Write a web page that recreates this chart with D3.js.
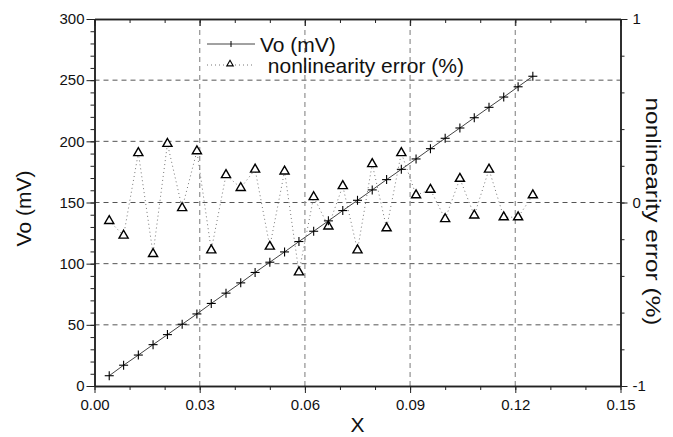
<!DOCTYPE html>
<html>
<head>
<meta charset="utf-8">
<script src="https://cdn.jsdelivr.net/npm/d3@7"></script>
<style>
  body { margin: 0; background: #fff; }
  svg { font-family: "Liberation Sans", Arial, sans-serif; }
</style>
</head>
<body>
<svg id="chart" width="673" height="437"></svg>
<script>
// values
const xValues = [0.0042, 0.0083, 0.0125, 0.0167, 0.0208, 0.025, 0.0292, 0.0333, 0.0375, 0.0417,
  0.0458, 0.05, 0.0542, 0.0583, 0.0625, 0.0667, 0.0708, 0.075, 0.0792, 0.0833,
  0.0875, 0.0917, 0.0958, 0.1, 0.1042, 0.1083, 0.1125, 0.1167, 0.1208, 0.125];
const voValues = [8.4, 17.0, 25.3, 33.8, 42.0, 50.5, 58.9, 67.5, 75.9, 84.3,
  92.8, 101.2, 109.6, 118.1, 126.5, 135.0, 143.4, 151.8, 160.3, 168.7,
  177.1, 185.6, 194.0, 202.5, 210.9, 219.3, 227.8, 236.2, 244.6, 253.2];
const errValues = [-0.10, -0.18, 0.27, -0.28, 0.32, -0.03, 0.28, -0.26, 0.15, 0.08,
  0.18, -0.24, 0.17, -0.38, 0.03, -0.13, 0.09, -0.26, 0.21, -0.14,
  0.27, 0.04, 0.07, -0.09, 0.13, -0.07, 0.18, -0.08, -0.08, 0.04];
const xTicks = [0, 0.03, 0.06, 0.09, 0.12, 0.15];
const leftTicks = [0, 50, 100, 150, 200, 250, 300];
const rightTicks = [-1, 0, 1];
const legendLabels = ["Vo (mV)", " nonlinearity error (%)"];

const data = xValues.map((x, i) => ({ x, vo: voValues[i], err: errValues[i] }));

const margin = { top: 19, right: 52.5, bottom: 51, left: 94.5 };
const width = 673, height = 437;
const svg = d3.select("#chart");

const x = d3.scaleLinear().domain([0, 0.15]).range([margin.left, width - margin.right]);
const y = d3.scaleLinear().domain([0, 300]).range([height - margin.bottom, margin.top]);
const y2 = d3.scaleLinear().domain([-1, 1]).range([height - margin.bottom, margin.top]);

// grid
const grid = svg.append("g").attr("stroke", "#555").attr("stroke-width", 1).attr("stroke-dasharray", "5,4");
grid.selectAll("line.h")
  .data(leftTicks.slice(1, -1))
  .join("line")
  .attr("x1", x(0)).attr("x2", x(0.15))
  .attr("y1", d => y(d)).attr("y2", d => y(d));
grid.selectAll("line.v")
  .data(xTicks.slice(1, -1))
  .join("line")
  .attr("stroke", "#999").attr("stroke-width", 1.3)
  .attr("x1", d => x(d)).attr("x2", d => x(d))
  .attr("y1", y(0)).attr("y2", y(300));

// axes
function styleAxis(g) {
  g.selectAll("path.domain").attr("stroke", "#222").attr("stroke-width", 1.5);
  g.selectAll(".tick line").attr("stroke", "#222").attr("stroke-width", 1);
  g.selectAll(".tick text").attr("fill", "#111").style("font-size", "15px");
}

const bottomMinor = d3.range(0, 0.1501, 0.01);
svg.append("g")
  .attr("transform", `translate(0,${y(0)})`)
  .call(d3.axisBottom(x).tickValues(bottomMinor).tickSize(4).tickSizeOuter(0).tickFormat(""))
  .call(styleAxis);
svg.append("g")
  .attr("transform", `translate(0,${y(0)})`)
  .call(d3.axisBottom(x).tickValues(xTicks).tickSize(7).tickSizeOuter(0).tickPadding(6).tickFormat(d3.format(".2f")))
  .call(styleAxis);

svg.append("g")
  .attr("transform", `translate(0,${y(300)})`)
  .call(d3.axisBottom(x).tickValues(bottomMinor).tickSize(4).tickSizeOuter(0).tickFormat(""))
  .call(styleAxis);
svg.append("g")
  .attr("transform", `translate(0,${y(300)})`)
  .call(d3.axisBottom(x).tickValues(xTicks).tickSize(7).tickSizeOuter(0).tickFormat(""))
  .call(styleAxis);

svg.append("g")
  .attr("transform", `translate(${x(0)},0)`)
  .call(d3.axisLeft(y).tickValues(d3.range(0, 301, 10)).tickSize(4).tickSizeOuter(0).tickFormat(""))
  .call(styleAxis);
svg.append("g")
  .attr("transform", `translate(${x(0)},0)`)
  .call(d3.axisLeft(y).tickValues(leftTicks).tickSize(8).tickSizeOuter(0).tickPadding(2).tickFormat(d3.format("d")))
  .call(styleAxis);

svg.append("g")
  .attr("transform", `translate(${x(0.15)},0)`)
  .call(d3.axisRight(y2).tickValues(d3.range(-1, 1.01, 0.2)).tickSize(4).tickSizeOuter(0).tickFormat(""))
  .call(styleAxis);
svg.append("g")
  .attr("transform", `translate(${x(0.15)},0)`)
  .call(d3.axisRight(y2).tickValues(rightTicks).tickSize(7).tickSizeOuter(0).tickPadding(5).tickFormat(d => String(d)))
  .call(styleAxis);

// series
const errLine = d3.line().x(d => x(d.x)).y(d => y2(d.err));
svg.append("path")
  .datum(data)
  .attr("d", errLine)
  .attr("fill", "none")
  .attr("stroke", "#777")
  .attr("stroke-width", 1)
  .attr("stroke-dasharray", "1,3");

const voLine = d3.line().x(d => x(d.x)).y(d => y(d.vo));
svg.append("path")
  .datum(data)
  .attr("d", voLine)
  .attr("fill", "none")
  .attr("stroke", "#444")
  .attr("stroke-width", 1);

const tri = d3.symbol().type(d3.symbolTriangle).size(36);
svg.append("g").selectAll("path")
  .data(data)
  .join("path")
  .attr("transform", d => `translate(${x(d.x)},${y2(d.err)})`)
  .attr("d", tri)
  .attr("fill", "#fff")
  .attr("stroke", "#000")
  .attr("stroke-width", 1.4);

svg.append("g").selectAll("g")
  .data(data)
  .join("g")
  .attr("transform", d => `translate(${x(d.x)},${y(d.vo)})`)
  .call(g => {
    g.append("line").attr("x1", -4.5).attr("x2", 4.5).attr("stroke", "#000").attr("stroke-width", 1.1);
    g.append("line").attr("y1", -4.5).attr("y2", 4.5).attr("stroke", "#000").attr("stroke-width", 1.1);
  });

// legend
const legend = svg.append("g").style("font-size", "21px").attr("fill", "#111");
legend.append("line").attr("x1", 207).attr("x2", 255).attr("y1", 44).attr("y2", 44)
  .attr("stroke", "#444").attr("stroke-width", 1);
legend.append("line").attr("x1", 231).attr("x2", 231).attr("y1", 41).attr("y2", 47)
  .attr("stroke", "#000").attr("stroke-width", 1);
legend.append("text").attr("x", 260).attr("y", 52).text(legendLabels[0]);

legend.append("line").attr("x1", 207).attr("x2", 255).attr("y1", 65).attr("y2", 65)
  .attr("stroke", "#777").attr("stroke-dasharray", "1,3");
legend.append("path").attr("transform", "translate(230,64)")
  .attr("d", d3.symbol().type(d3.symbolTriangle).size(18))
  .attr("fill", "#fff").attr("stroke", "#000").attr("stroke-width", 1.1);
legend.append("text").attr("x", 262).attr("y", 73).style("white-space", "pre").text(legendLabels[1]);

// axis titles
svg.append("text")
  .attr("x", (x(0) + x(0.15)) / 2).attr("y", 432)
  .attr("text-anchor", "middle").style("font-size", "21px").attr("fill", "#111")
  .text("X");
svg.append("text")
  .attr("transform", `translate(31,${(y(0) + y(300)) / 2 + 6}) rotate(-90)`)
  .attr("text-anchor", "middle").style("font-size", "21px").attr("fill", "#111")
  .text("Vo (mV)");
svg.append("text")
  .attr("transform", `translate(646,${(y(0) + y(300)) / 2 + 9}) rotate(90)`)
  .attr("text-anchor", "middle").style("font-size", "21px").attr("fill", "#111")
  .attr("textLength", 228).attr("lengthAdjust", "spacingAndGlyphs")
  .text("nonlinearity error (%)");
</script>
</body>
</html>
